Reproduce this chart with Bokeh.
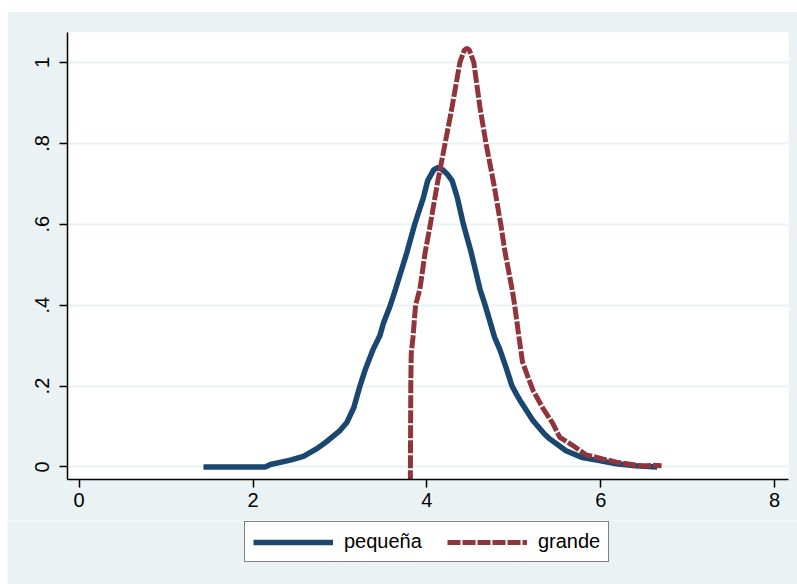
from bokeh.plotting import figure
from bokeh.models import (ColumnDataSource, FixedTicker, Legend, LegendItem, Range1d, Spacer)
from bokeh.layouts import column, row
from bokeh.embed import file_html
from bokeh.resources import INLINE

# ---- data ----
peq_x = [1.43, 2.14, 2.2, 2.43, 2.58, 2.74, 2.86, 3.0, 3.08, 3.16, 3.23, 3.29, 3.38, 3.46,
         3.5, 3.58, 3.64, 3.77, 3.86, 3.96, 4.01, 4.08, 4.13, 4.18, 4.23, 4.29, 4.35, 4.42,
         4.51, 4.61, 4.67, 4.78, 4.84, 4.92, 4.98, 5.03, 5.07, 5.22, 5.35, 5.41, 5.6, 5.79,
         6.0, 6.18, 6.4, 6.65]
peq_y = [0.0, 0.0, 0.006, 0.017, 0.026, 0.046, 0.065, 0.09, 0.11, 0.147, 0.2, 0.24, 0.29, 0.325,
         0.355, 0.4, 0.44, 0.53, 0.6, 0.666, 0.708, 0.735, 0.74, 0.735, 0.725, 0.708, 0.666, 0.6,
         0.53, 0.44, 0.4, 0.32, 0.29, 0.24, 0.2, 0.18, 0.165, 0.115, 0.082, 0.07, 0.04, 0.023,
         0.015, 0.008, 0.003, 0.0]

gra_x = [3.81, 3.815, 3.82, 3.84, 3.87, 3.92, 3.98, 4.04, 4.12, 4.21, 4.29, 4.38, 4.43, 4.46,
         4.49, 4.54, 4.61, 4.68, 4.77, 4.85, 4.90, 4.98, 5.01, 5.06, 5.10, 5.15, 5.22, 5.33,
         5.45, 5.53, 5.68, 5.83, 6.02, 6.18, 6.3, 6.48, 6.6, 6.7]
gra_y = [-0.04, 0.2, 0.28, 0.32, 0.40, 0.44, 0.53, 0.60, 0.70, 0.80, 0.89, 1.0, 1.03, 1.035,
         1.03, 1.0, 0.89, 0.80, 0.70, 0.60, 0.53, 0.44, 0.40, 0.32, 0.26, 0.23, 0.19, 0.147,
         0.107, 0.073, 0.053, 0.03, 0.02, 0.012, 0.008, 0.002, 0.004, 0.003]

x_ticks = [0, 2, 4, 6, 8]
y_ticks = [0, 0.2, 0.4, 0.6, 0.8, 1.0]
y_tick_labels = ["0", ".2", ".4", ".6", ".8", "1"]
series_names = ["pequeña", "grande"]

# ---- styling ----
BG = "#EAF2F3"
NAVY = "#1A476F"
MAROON = "#90353B"
FONT = "Liberation Sans"
BLUE_STYLE = dict(line_color=NAVY, line_width=5.5)
RED_STYLE = dict(line_color=MAROON, line_width=5, line_dash="13 2")

p = figure(width=790, height=509, output_backend="svg", toolbar_location=None,
           x_range=Range1d(-0.134, 8.16), y_range=Range1d(-0.031, 1.074),
           min_border_left=60, min_border_top=21, min_border_right=9, min_border_bottom=41)
p.frame_align = False
p.border_fill_color = BG
p.background_fill_color = "white"
p.outline_line_color = None

src_p = ColumnDataSource(dict(x=peq_x, y=peq_y))
src_g = ColumnDataSource(dict(x=gra_x, y=gra_y))
p.line("x", "y", source=src_p, **BLUE_STYLE)
p.line("x", "y", source=src_g, **RED_STYLE)

# grid
p.xgrid.grid_line_color = None
p.ygrid.grid_line_color = BG
p.ygrid.grid_line_width = 2
p.ygrid.ticker = FixedTicker(ticks=y_ticks)

# axes
for ax in (p.xaxis[0], p.yaxis[0]):
    ax.axis_line_color = "black"
    ax.axis_line_width = 1.5
    ax.major_tick_line_color = "black"
    ax.major_tick_line_width = 1.5
    ax.major_tick_out = 8
    ax.major_tick_in = 0
    ax.minor_tick_line_color = None
    ax.major_label_text_font = FONT
    ax.major_label_text_font_size = "20px"
    ax.major_label_text_color = "black"

p.xaxis.major_label_standoff = 5
p.yaxis.major_label_standoff = 10
p.xaxis.ticker = FixedTicker(ticks=x_ticks)
p.yaxis.ticker = FixedTicker(ticks=y_ticks)
p.yaxis.major_label_overrides = {t: l for t, l in zip(y_ticks, y_tick_labels)}
p.yaxis.major_label_orientation = "vertical"

# ---- legend strip below the plot ----
pl = figure(width=790, height=64, output_backend="svg", toolbar_location=None,
            x_range=Range1d(0, 1), y_range=Range1d(0, 1), min_border=0,
            x_axis_location=None, y_axis_location=None)
pl.frame_align = False
pl.grid.visible = False
pl.outline_line_color = None
pl.background_fill_color = BG
pl.border_fill_color = BG
# off-screen samples so the legend swatches get drawn
lr1 = pl.line("x", "y", source=ColumnDataSource(dict(x=[-3, -2], y=[-3, -2])), **BLUE_STYLE)
lr2 = pl.line("x", "y", source=ColumnDataSource(dict(x=[-3, -2], y=[-3, -2])), **RED_STYLE)

legend = Legend(items=[LegendItem(label=series_names[0], renderers=[lr1]),
                       LegendItem(label=series_names[1], renderers=[lr2])],
                orientation="horizontal", location=(237, 22))
legend.label_text_font = FONT
legend.label_text_font_size = "20px"
legend.label_text_color = "black"
legend.glyph_width = 80
legend.glyph_height = 20
legend.label_height = 23
legend.label_standoff = 11
legend.spacing = 25
legend.padding = 8
legend.margin = 0
legend.border_line_color = "black"
legend.border_line_width = 1.5
legend.background_fill_color = "white"
legend.background_fill_alpha = 1.0
pl.add_layout(legend, "center")

layout = column(Spacer(height=11, width=10),
                row(Spacer(width=7, height=10), column(p, pl, spacing=0), spacing=0),
                spacing=0)
open("out.html", "w").write(file_html(layout, INLINE))
